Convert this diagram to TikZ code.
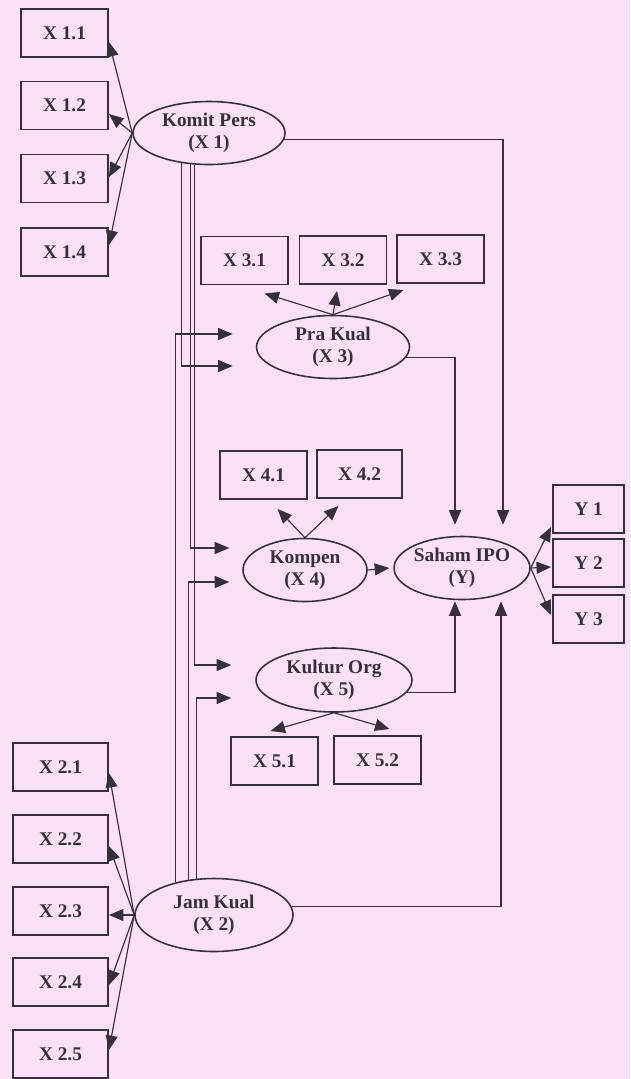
\documentclass[tikz,border=0pt]{standalone}
\usepackage{fontspec}
\setmainfont{Liberation Serif}
\usetikzlibrary{shapes.geometric,arrows.meta,calc}
\definecolor{paper}{RGB}{248,225,246}
\definecolor{ink}{RGB}{58,46,60}

\begin{document}
\begin{tikzpicture}[x=0.02cm,y=-0.02cm,
    font=\bfseries\fontsize{11}{12.5}\selectfont,text=ink,
    ind/.style={rectangle,draw=ink,line width=1.1pt,inner sep=0pt,
        minimum width=1.74cm,minimum height=0.96cm},
    lat/.style={ellipse,draw=ink,line width=0.9pt,inner sep=0pt,align=center,
        minimum width=3.04cm,minimum height=1.26cm},
    arr/.style={draw=ink,line width=0.65pt,-{Triangle[length=0.29cm,width=0.24cm]}}]

    \fill[paper] (0,0) rectangle (630,1079);

    \node[lat] (x1) at (209,133) {Komit Pers\\(X 1)};
    \node[ind] (x11) at (64.5,33) {X 1.1};
    \node[ind] (x12) at (64.5,105.5) {X 1.2};
    \node[ind] (x13) at (64.5,178.5) {X 1.3};
    \node[ind] (x14) at (64.5,252) {X 1.4};

    \node[lat,minimum width=3.16cm,minimum height=1.46cm] (x2) at (214,915) {Jam Kual\\(X 2)};
    \node[ind,minimum width=1.9cm] (x21) at (60.5,767) {X 2.1};
    \node[ind,minimum width=1.9cm] (x22) at (60.5,839) {X 2.2};
    \node[ind,minimum width=1.9cm] (x23) at (60.5,911) {X 2.3};
    \node[ind,minimum width=1.9cm] (x24) at (60.5,982) {X 2.4};
    \node[ind,minimum width=1.9cm] (x25) at (60.5,1054) {X 2.5};

    \node[lat,minimum width=3.06cm] (x3) at (333,347) {Pra Kual\\(X 3)};
    \node[ind] (x31) at (244.5,260.5) {X 3.1};
    \node[ind] (x32) at (343,260) {X 3.2};
    \node[ind] (x33) at (440.5,259) {X 3.3};

    \node[lat,minimum width=2.48cm] (x4) at (305,570) {Kompen\\(X 4)};
    \node[ind] (x41) at (263.5,475) {X 4.1};
    \node[ind,minimum width=1.7cm] (x42) at (359.5,474) {X 4.2};

    \node[lat,minimum width=3.12cm,minimum height=1.28cm] (x5) at (334,680) {Kultur Org\\(X 5)};
    \node[ind] (x51) at (274.5,761) {X 5.1};
    \node[ind] (x52) at (377.5,760) {X 5.2};

    \node[lat,minimum width=2.6cm] (y) at (462,568) {Saham IPO\\(Y)};
    \node[ind,minimum width=1.42cm] (y1) at (588.5,509) {Y 1};
    \node[ind,minimum width=1.42cm] (y2) at (588.5,563) {Y 2};
    \node[ind,minimum width=1.42cm] (y3) at (588.5,619) {Y 3};

    \foreach \n/\d in {1/9,2/8.5,3/-1.5,4/-7}
        \draw[arr] (x1.west) -- ($(x1\n.east)+(0,\d)$);
    \foreach \n/\d in {1/6,2/7,3/4,4/3,5/-4}
        \draw[arr] (x2.west) -- ($(x2\n.east)+(0,\d)$);
    \foreach \n/\dx/\dy in {1/20/8,2/-6/6,3/-37/6}
        \draw[arr] (x3.north) -- ($(x3\n.south)+(\dx,\dy)$);
    \foreach \n/\dx/\dy in {1/14/9,2/-21/7}
        \draw[arr] (x4.north) -- ($(x4\n.south)+(\dx,\dy)$);
    \foreach \n/\dx/\dy in {1/-4/-5,2/12/-6}
        \draw[arr] (x5.south) -- ($(x5\n.north)+(\dx,\dy)$);
    \foreach \n/\d in {1/18,2/4,3/-4}
        \draw[arr] (y.east) -- ($(y\n.west)+(-1,\d)$);

    \draw[arr] (x1.228) |- ($(x3.west)+(-23,19)$);
    \draw[arr] (x1.240) |- ($(x4.west)+(-13,-22)$);
    \draw[arr] (x1.246) |- ($(x5.west)+(-24,-15)$);
    \draw[arr] (x2.140) |- ($(x3.west)+(-23,-13)$);
    \draw[arr] (x2.126) |- ($(x4.west)+(-13,12)$);
    \draw[arr] (x2.116) |- ($(x5.west)+(-24,18)$);

    \draw[arr] (x1.-5) -| ($(y.north)+(41,-11)$);
    \draw[arr] (x3.-8) -| ($(y.north)+(-7,-11)$);
    \draw[arr] (x5.-10) -| ($(y.south)+(-7,1)$);
    \draw[arr] (x2.6) -| ($(y.south)+(39,1)$);
    \draw[arr] (x4.east) -- ($(y.west)+(-4,0)$);
\end{tikzpicture}
\end{document}
